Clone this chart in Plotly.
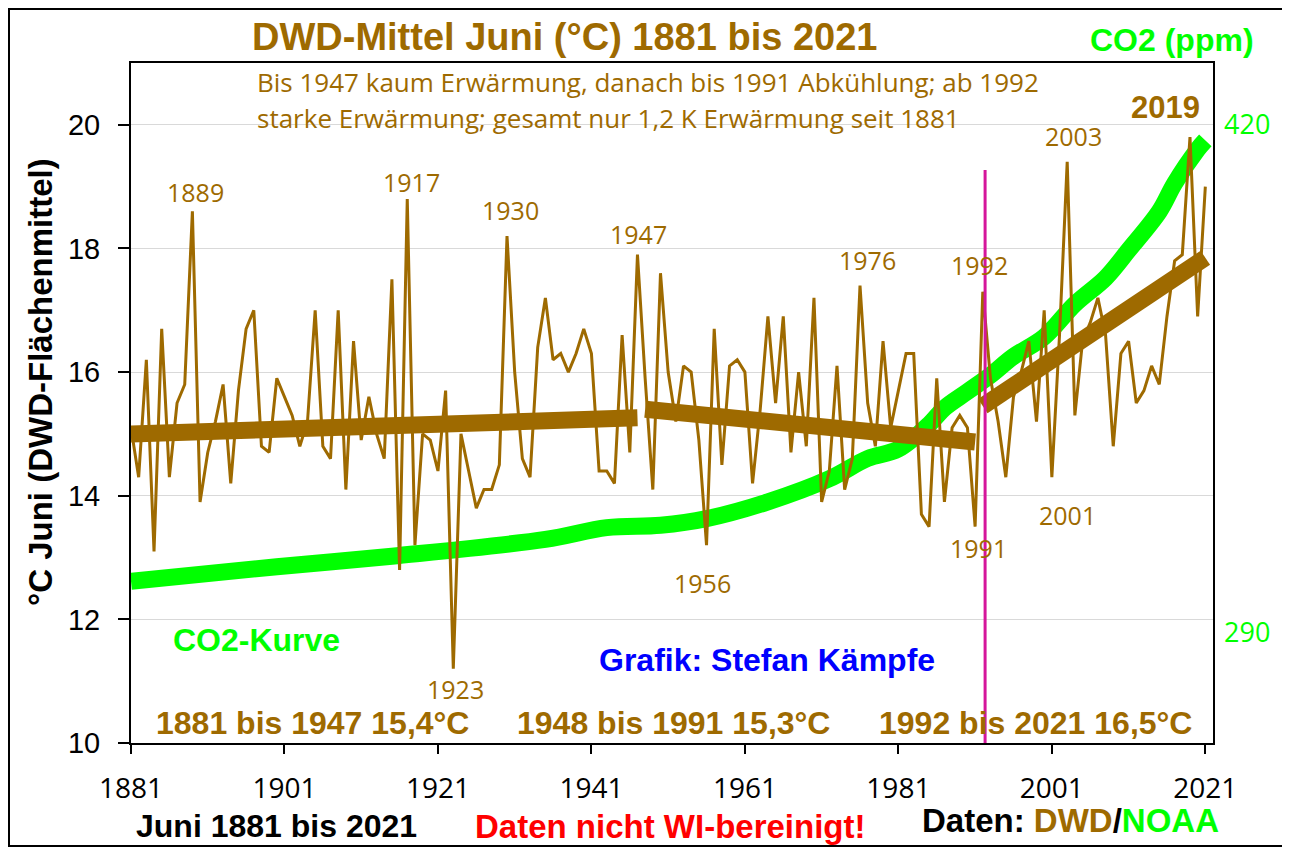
import plotly.graph_objects as go

# June mean temperature, Germany (DWD), 1881-2021
years = list(range(1881, 2022))
temp = [
    15.1, 14.3, 16.2, 13.1, 16.7, 14.3, 15.5, 15.8, 18.6, 13.9,   # 1881-1890
    14.7, 15.2, 15.8, 14.2, 15.7, 16.7, 17.0, 14.8, 14.7, 15.9,   # 1891-1900
    15.6, 15.3, 14.8, 15.2, 17.0, 14.8, 14.6, 17.0, 14.1, 16.5,   # 1901-1910
    14.9, 15.6, 15.0, 14.6, 17.5, 12.8, 18.8, 13.2, 15.0, 14.9,   # 1911-1920
    14.4, 15.7, 11.2, 15.0, 14.4, 13.8, 14.1, 14.1, 14.5, 18.2,   # 1921-1930
    16.0, 14.6, 14.3, 16.4, 17.2, 16.2, 16.3, 16.0, 16.3, 16.7,   # 1931-1940
    16.3, 14.4, 14.4, 14.2, 16.6, 14.7, 17.9, 15.9, 14.1, 17.6,   # 1941-1950
    16.0, 15.2, 16.1, 16.0, 14.9, 13.2, 16.7, 14.5, 16.1, 16.2,   # 1951-1960
    16.0, 14.2, 15.4, 16.9, 15.5, 16.9, 14.7, 16.0, 14.8, 17.2,   # 1961-1970
    13.9, 14.4, 16.1, 14.1, 14.6, 17.4, 15.5, 14.8, 16.5, 15.1,   # 1971-1980
    15.7, 16.3, 16.3, 13.7, 13.5, 15.9, 13.9, 15.1, 15.3, 15.1,   # 1981-1990
    13.5, 17.3, 15.9, 15.2, 14.3, 15.6, 16.0, 16.5, 15.2, 17.0,   # 1991-2000
    14.3, 16.6, 19.4, 15.3, 16.5, 16.8, 17.2, 16.6, 14.8, 16.3,   # 2001-2010
    16.5, 15.5, 15.7, 16.1, 15.8, 16.9, 17.8, 17.9, 19.8, 16.9,   # 2011-2020
    19.0,                                                         # 2021
]

# linear trends of the three periods (end points)
trend_years = [[1881, 1947], [1948, 1991], [1992, 2021]]
trend_vals = [[15.0, 15.26], [15.4, 14.87], [15.45, 17.85]]

# CO2 curve (ppm)
co2_years = [1881, 1900, 1915, 1935, 1943, 1950, 1956, 1964, 1972, 1977, 1981,
             1985, 1987, 1990, 1993, 1996, 2000, 2004, 2008, 2011, 2015, 2017,
             2020, 2021]
co2_ppm = [303.2, 306.9, 309.6, 313.9, 316.9, 317.5, 319.2, 323.5, 329.4, 334.6,
           337.0, 343.3, 347.5, 351.7, 355.9, 360.7, 365.7, 374.1, 380.8, 387.9,
           397.8, 405.0, 413.7, 416.0]

# labelled years (label, x, y)
peak_labels = [("1889", 1889.4, 18.92), ("1917", 1917.6, 19.08), ("1930", 1930.4, 18.62),
               ("1947", 1947.1, 18.24), ("1976", 1977.0, 17.82), ("1992", 1991.6, 17.73),
               ("2003", 2003.8, 19.82), ("1923", 1923.3, 10.87), ("1956", 1955.5, 12.59),
               ("1991", 1991.4, 13.16), ("2001", 2003.1, 13.69)]

brown = "#9E6A00"
green = "#00FF00"
magenta = "#D5169B"
bold_font = "Liberation Sans"
thin_font = "Open Sans"

# page has an 8px body margin, so the figure is a bit smaller than the window
OFF = 8
W, H = 1282, 840
L, R, T, B = 123, 77, 55, 105
PW, PH = W - L - R, H - T - B


def px(x):
    # screen pixel x -> paper
    return (x - OFF - L) / PW


def py(y):
    # screen pixel y -> paper
    return (H - B - (y - OFF)) / PH


fig = go.Figure()

fig.add_trace(go.Scatter(x=co2_years, y=co2_ppm, mode="lines", yaxis="y",
                         line=dict(color=green, width=17, shape="spline"),
                         hoverinfo="skip"))
fig.add_trace(go.Scatter(x=years, y=temp, mode="lines", yaxis="y2",
                         line=dict(color=brown, width=3)))
for tx, tv in zip(trend_years, trend_vals):
    fig.add_trace(go.Scatter(x=tx, y=tv, mode="lines", yaxis="y2",
                             line=dict(color=brown, width=17)))

# magenta marker at 1992
fig.add_shape(type="line", xref="x", yref="y2", x0=1992.3, x1=1992.3, y0=10, y1=19.27,
              line=dict(color=magenta, width=3))
# outer frame
fig.add_shape(type="rect", xref="paper", yref="paper",
              x0=px(9), x1=px(1286), y0=py(846), y1=py(9),
              line=dict(color="black", width=2), layer="below")


def note(text, x, y, size, color, bold=False, xanchor="center", xref="paper", yref="paper", angle=0):
    fig.add_annotation(text=text, x=x, y=y, xref=xref, yref=yref, showarrow=False,
                       xanchor=xanchor, yanchor="middle", textangle=angle,
                       font=dict(size=size, color=color,
                                 family=bold_font if bold else thin_font,
                                 weight="bold" if bold else "normal"))


note("DWD-Mittel Juni (°C) 1881 bis 2021", px(564), py(37), 38, brown, bold=True)
note("CO2 (ppm)", px(1172), py(40), 32, green, bold=True)
note("Bis 1947 kaum Erwärmung, danach bis 1991 Abkühlung; ab 1992", px(255), py(82), 26, brown, xanchor="left")
note("starke Erwärmung; gesamt nur 1,2 K Erwärmung seit 1881", px(255), py(118), 26, brown, xanchor="left")

for lab, lx, ly in peak_labels:
    note(lab, lx, ly, 25, brown, xref="x", yref="y2")
note("2019", px(1165), py(107), 31, brown, bold=True)

note("CO2-Kurve", px(256), py(640), 32, green, bold=True)
note("Grafik: Stefan Kämpfe", px(767), py(660), 32, "#0000FF", bold=True)
note("1881 bis 1947 15,4°C", px(312), py(723), 32, brown, bold=True)
note("1948 bis 1991 15,3°C", px(673), py(723), 32, brown, bold=True)
note("1992 bis 2021 16,5°C", px(1035), py(723), 32, brown, bold=True)

note("°C Juni (DWD-Flächenmittel)", px(40), py(382), 33, "black", bold=True, angle=-90)
note("Juni 1881 bis 2021", px(276), py(826), 32, "black", bold=True)
note("Daten nicht WI-bereinigt!", px(670), py(826), 33, "#FF0000", bold=True)
note("Daten: <span style='color:%s'>DWD</span>/<span style='color:%s'>NOAA</span>" % (brown, green),
     px(1070), py(820), 33, "black", bold=True)

fig.update_layout(
    width=W, height=H,
    margin=dict(l=L, r=R, t=T, b=B),
    plot_bgcolor="white", paper_bgcolor="white",
    showlegend=False,
    xaxis=dict(range=[1881, 2022], tickvals=list(range(1881, 2022, 20)),
               ticks="outside", ticklen=9, tickwidth=2, tickcolor="black",
               showline=True, linecolor="black", linewidth=2, mirror=True,
               showgrid=False, zeroline=False, ticklabelstandoff=10,
               tickfont=dict(family=thin_font, size=28, color="black")),
    yaxis=dict(range=[261.8, 435.8], side="right", tickvals=[290, 420],
               showgrid=False, zeroline=False, showline=False, ticks="",
               ticklabelstandoff=10,
               tickfont=dict(family=thin_font, size=27, color=green)),
    yaxis2=dict(range=[10, 21], overlaying="y", side="left",
                tickvals=[10, 12, 14, 16, 18, 20],
                ticks="outside", ticklen=11, tickwidth=2, tickcolor="black",
                showline=True, linecolor="black", linewidth=2, mirror=True,
                showgrid=True, gridcolor="#D9D9D9", gridwidth=1, zeroline=False,
                ticklabelstandoff=12,
                tickfont=dict(family=bold_font, size=29, color="black")),
)

fig.write_html("out.html")
